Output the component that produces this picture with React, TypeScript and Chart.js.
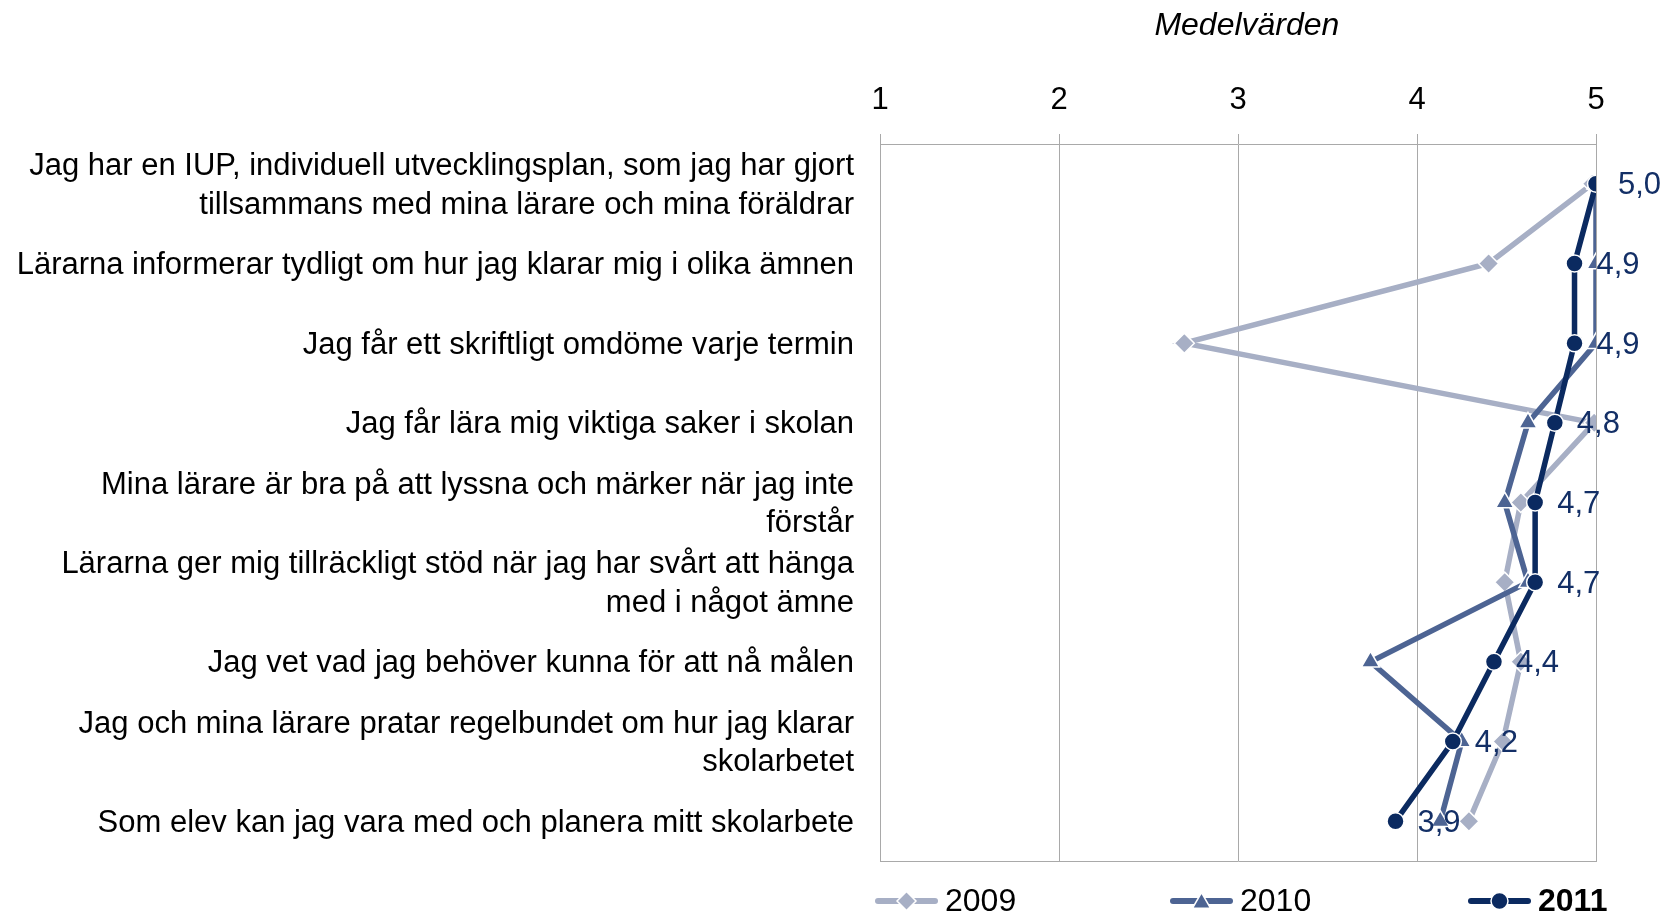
import React, { useEffect, useRef } from 'react';
import { Chart, registerables } from 'chart.js';

Chart.register(...registerables);

const categories: (string | string[])[] = [
  ['Jag har en IUP, individuell utvecklingsplan, som jag har gjort', 'tillsammans med mina lärare och mina föräldrar'],
  'Lärarna informerar tydligt om hur jag klarar mig i olika ämnen',
  'Jag får ett skriftligt omdöme varje termin',
  'Jag får lära mig viktiga saker i skolan',
  ['Mina lärare är bra på att lyssna och märker när jag inte', 'förstår'],
  ['Lärarna ger mig tillräckligt stöd när jag har svårt att hänga', 'med i något ämne'],
  'Jag vet vad jag behöver kunna för att nå målen',
  ['Jag och mina lärare pratar regelbundet om hur jag klarar', 'skolarbetet'],
  'Som elev kan jag vara med och planera mitt skolarbete',
];

const values2009 = [4.98, 4.4, 2.7, 4.99, 4.58, 4.49, 4.58, 4.48, 4.29];
const values2010 = [5.0, 5.0, 5.0, 4.62, 4.49, 4.62, 3.74, 4.25, 4.13];
const values2011 = [5.0, 4.88, 4.88, 4.77, 4.66, 4.66, 4.43, 4.2, 3.88];

const seriesNames = ['2009', '2010', '2011'];
const axisTitle = 'Medelvärden';
const xMin = 1;
const xMax = 5;

const FONT = "'Liberation Sans', Arial, Helvetica, sans-serif";
const C2009 = '#A7AFC5';
const C2010 = '#4D6493';
const C2011 = '#0B2A60';
const LABEL_COLOR = '#132F66';
const GRID = '#A9A9A9';

function drawMarker(ctx: CanvasRenderingContext2D, style: string, x: number, y: number, r: number, color: string) {
  ctx.save();
  ctx.fillStyle = color;
  ctx.strokeStyle = '#ffffff';
  ctx.lineWidth = 1.5;
  ctx.beginPath();
  if (style === 'circle') {
    ctx.arc(x, y, r, 0, Math.PI * 2);
  } else if (style === 'triangle') {
    for (let k = 0; k < 3; k++) {
      const a = (k * 2 * Math.PI) / 3;
      const px = x + Math.sin(a) * r;
      const py = y - Math.cos(a) * r + r * 0.2;
      if (k === 0) ctx.moveTo(px, py);
      else ctx.lineTo(px, py);
    }
    ctx.closePath();
  } else {
    ctx.moveTo(x - r, y);
    ctx.lineTo(x, y - r);
    ctx.lineTo(x + r, y);
    ctx.lineTo(x, y + r);
    ctx.closePath();
  }
  ctx.fill();
  ctx.stroke();
  ctx.restore();
}

const framePlugin = {
  id: 'frameBottom',
  beforeDatasetsDraw(chart: any) {
    const { ctx, chartArea } = chart;
    ctx.save();
    ctx.strokeStyle = GRID;
    ctx.lineWidth = 1;
    const y = Math.round(chartArea.bottom) + 0.5;
    ctx.beginPath();
    ctx.moveTo(chartArea.left, y);
    ctx.lineTo(chartArea.right + 1, y);
    ctx.stroke();
    ctx.restore();
  },
};

const valueLabelPlugin = {
  id: 'valueLabels',
  afterDatasetsDraw(chart: any) {
    const { ctx } = chart;
    const meta = chart.getDatasetMeta(2);
    const data = chart.data.datasets[2].data as number[];
    ctx.save();
    ctx.font = `31px ${FONT}`;
    ctx.fillStyle = LABEL_COLOR;
    ctx.textAlign = 'left';
    ctx.textBaseline = 'middle';
    meta.data.forEach((pt: any, i: number) => {
      const txt = data[i].toFixed(1).replace('.', ',');
      ctx.fillText(txt, pt.x + 22, pt.y + 2);
    });
    ctx.restore();
  },
};

const legendPlugin = {
  id: 'customLegend',
  afterDraw(chart: any) {
    const { ctx, chartArea } = chart;
    const styles = ['rectRot', 'triangle', 'circle'];
    const colors = [C2009, C2010, C2011];
    const radii = [9.5, 10.5, 8.5];
    const offsets = [-5, 290, 588];
    const y = 901;
    ctx.save();
    seriesNames.forEach((name, i) => {
      const x0 = chartArea.left + offsets[i];
      ctx.strokeStyle = colors[i];
      ctx.lineWidth = 6;
      ctx.lineCap = 'round';
      ctx.beginPath();
      ctx.moveTo(x0 + 3, y);
      ctx.lineTo(x0 + 60, y);
      ctx.stroke();
      drawMarker(ctx, styles[i], x0 + 31.5, y, radii[i], colors[i]);
      ctx.fillStyle = '#000000';
      ctx.font = `${i === 2 ? 'bold ' : ''}32px ${FONT}`;
      ctx.textAlign = 'left';
      ctx.textBaseline = 'middle';
      ctx.fillText(name, x0 + 70, y + 1);
    });
    ctx.restore();
  },
};

export default function App() {
  const canvasRef = useRef<HTMLCanvasElement | null>(null);

  useEffect(() => {
    if (!canvasRef.current) return;
    Chart.defaults.font.family = FONT;
    const chart = new Chart(canvasRef.current, {
      type: 'line',
      data: {
        labels: categories,
        datasets: [
          {
            label: seriesNames[0],
            data: values2009,
            borderColor: C2009,
            backgroundColor: C2009,
            borderWidth: 5.5,
            pointStyle: 'rectRot',
            pointRadius: 10,
            pointBackgroundColor: C2009,
            pointBorderColor: '#ffffff',
            pointBorderWidth: 1.5,
            order: 3,
          },
          {
            label: seriesNames[1],
            data: values2010,
            borderColor: C2010,
            backgroundColor: C2010,
            borderWidth: 5.5,
            pointStyle: 'triangle',
            pointRadius: 10.5,
            pointBackgroundColor: C2010,
            pointBorderColor: '#ffffff',
            pointBorderWidth: 1.5,
            order: 2,
          },
          {
            label: seriesNames[2],
            data: values2011,
            borderColor: C2011,
            backgroundColor: C2011,
            borderWidth: 5.5,
            pointStyle: 'circle',
            pointRadius: 8.5,
            pointBackgroundColor: C2011,
            pointBorderColor: '#ffffff',
            pointBorderWidth: 1.5,
            order: 1,
          },
        ],
      },
      options: {
        indexAxis: 'y',
        animation: false,
        responsive: true,
        maintainAspectRatio: false,
        events: [],
        layout: { padding: { left: 0, right: 72, top: 0, bottom: 54 } },
        plugins: {
          legend: { display: false },
          tooltip: { enabled: false },
          title: { display: false },
        },
        scales: {
          x: {
            type: 'linear',
            position: 'top',
            min: xMin,
            max: xMax,
            ticks: {
              stepSize: 1,
              color: '#000000',
              font: { size: 31, family: FONT },
              padding: 15,
            },
            grid: {
              color: GRID,
              lineWidth: 1,
              tickLength: 10,
              drawOnChartArea: true,
            },
            border: { display: true, color: GRID, width: 1 },
            title: {
              display: true,
              text: '  ' + axisTitle,
              color: '#000000',
              font: { size: 32, style: 'italic', family: FONT },
              padding: { top: 7, bottom: 0 },
            },
            afterFit: (scale: any) => {
              scale.height = 144;
              scale.paddingLeft = 0;
              scale.paddingRight = 0;
            },
          },
          y: {
            type: 'category',
            offset: true,
            ticks: {
              color: '#000000',
              font: { size: 31, family: FONT, lineHeight: 1.25 },
              padding: 26,
              labelOffset: 2,
              autoSkip: false,
            },
            grid: { display: false, drawTicks: false },
            border: { display: false },
            afterFit: (scale: any) => {
              scale.width = 880;
              scale.paddingTop = 0;
              scale.paddingBottom = 0;
            },
          },
        },
      },
      plugins: [framePlugin, valueLabelPlugin, legendPlugin],
    } as any);
    return () => chart.destroy();
  }, []);

  return (
    <div style={{ position: 'fixed', left: 0, top: 0, width: 1668, height: 915, background: '#ffffff' }}>
      <canvas ref={canvasRef} />
    </div>
  );
}
